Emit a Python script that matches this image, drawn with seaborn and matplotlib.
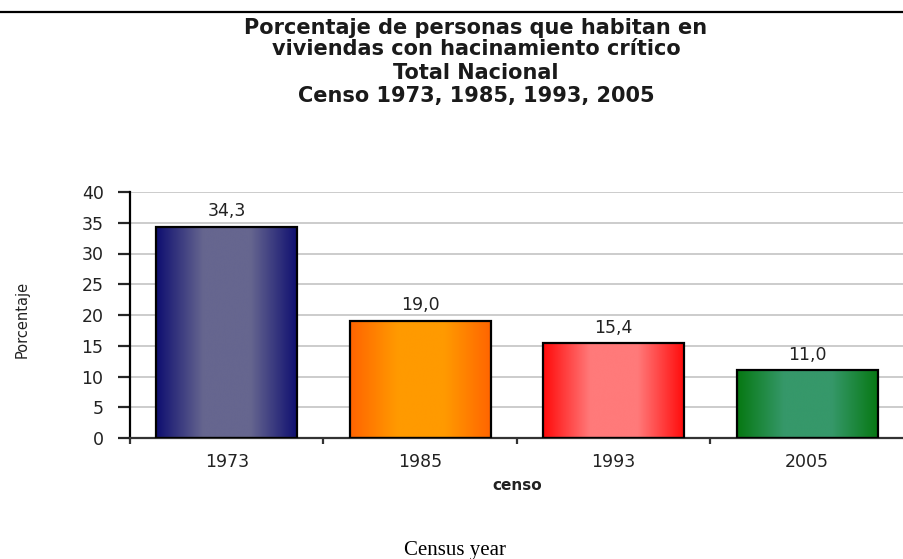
import numpy as np
import pandas as pd
import seaborn as sns
import matplotlib.pyplot as plt
from matplotlib.colors import LinearSegmentedColormap
from matplotlib.lines import Line2D

# data
years = ['1973', '1985', '1993', '2005']
values = [34.3, 19.0, 15.4, 11.0]
title_lines = ['Porcentaje de personas que habitan en',
               'viviendas con hacinamiento crítico',
               'Total Nacional',
               'Censo 1973, 1985, 1993, 2005']
dark_colors = ['#0e0e70', '#ff6400', '#ff0a0a', '#067812']
light_colors = ['#66668f', '#ff9a00', '#ff7a7a', '#36986a']

df = pd.DataFrame({'censo': years, 'Porcentaje': values})

sns.set_style('white')
plt.rcParams['font.family'] = ['DejaVu Sans']

fig = plt.figure(figsize=(9.04, 5.59), dpi=100)
ax = fig.add_axes([130/904, 1-438/559, 1-130/904, (438-192)/559])

sns.barplot(data=df, x='censo', y='Porcentaje', width=0.73, ax=ax,
            color='white', edgecolor='black', linewidth=1.6, zorder=3)

# horizontal gradient inside each bar (dark edges, light middle)
grad = np.linspace(0, 1, 256).reshape(1, -1)
for i, p in enumerate(ax.patches):
    cmap = LinearSegmentedColormap.from_list(
        'g%d' % i, [dark_colors[i], light_colors[i], light_colors[i], dark_colors[i]])
    x0, w, h = p.get_x(), p.get_width(), p.get_height()
    ax.imshow(grad, cmap=cmap, extent=[x0, x0 + w, 0, h], aspect='auto',
              interpolation='bicubic', zorder=2)
    p.set_facecolor('none')
    ax.text(x0 + w/2, h + 1.1, f'{values[i]:.1f}'.replace('.', ','),
            ha='center', va='bottom', fontsize=12.5, color='#222222')

ax.set_xlim(-0.5, 3.5)
ax.set_ylim(0, 40)
ax.set_yticks(range(0, 41, 5))
ax.yaxis.grid(True, color='#c8c8c8', linewidth=1.3, zorder=0)
ax.set_axisbelow(True)

for s in ['top', 'right']:
    ax.spines[s].set_visible(False)
ax.spines['left'].set_color('black')
ax.spines['left'].set_linewidth(1.6)
ax.spines['bottom'].set_color('#333333')
ax.spines['bottom'].set_linewidth(1.6)

ax.tick_params(axis='y', direction='out', length=9, width=1.6, pad=10,
               labelsize=12.5, labelcolor='#222222', left=True)
ax.tick_params(axis='x', which='major', length=0, pad=11,
               labelsize=12.5, labelcolor='#222222')
ax.set_xticks([-0.5, 0.5, 1.5, 2.5], minor=True)
ax.tick_params(axis='x', which='minor', direction='out', length=4,
               width=1.6, color='#333333', bottom=True)

ax.set_xlabel('censo', fontsize=11, fontweight='bold', color='#222222', labelpad=5)
ax.set_ylabel('Porcentaje', fontsize=10.5, color='#222222', labelpad=0)
ax.yaxis.set_label_coords(-0.13, 0.48)

baselines = [34, 55, 79, 102]
for line, b in zip(title_lines, baselines):
    fig.text(476/904, 1 - b/559, line, ha='center', va='baseline',
             fontsize=15, fontweight='bold', color='#1a1a1a')

fig.add_artist(Line2D([0, 1], [1 - 12/559, 1 - 12/559], color='black',
                      linewidth=1.6, transform=fig.transFigure))

fig.text(455/904, 1 - 555/559, 'Census year', ha='center', va='baseline',
         fontsize=15, family='Liberation Serif', color='black')

fig.savefig('out.png', dpi=100)
